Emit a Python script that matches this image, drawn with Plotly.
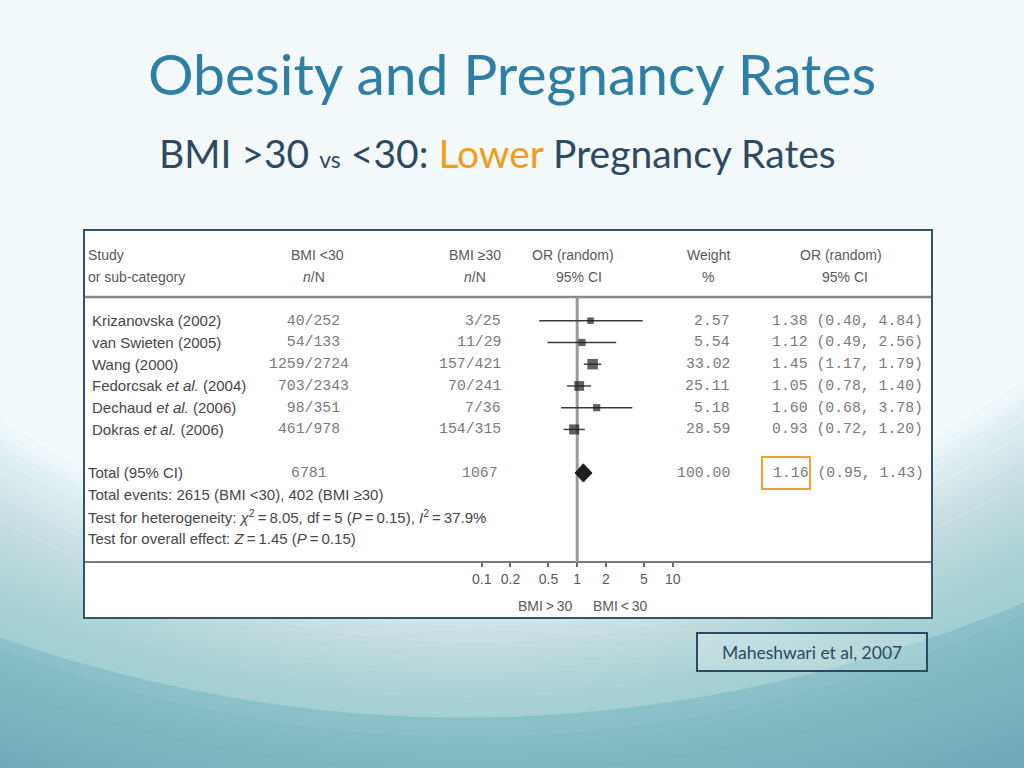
import plotly.graph_objects as go

# ---------------- data ----------------
studies = ["Krizanovska (2002)", "van Swieten (2005)", "Wang (2000)",
           "Fedorcsak <i>et al.</i> (2004)", "Dechaud <i>et al.</i> (2006)",
           "Dokras <i>et al.</i> (2006)"]
low_n = [40, 54, 1259, 703, 98, 461]
low_N = [252, 133, 2724, 2343, 351, 978]
high_n = [3, 11, 157, 70, 7, 154]
high_N = [25, 29, 421, 241, 36, 315]
weights = [2.57, 5.54, 33.02, 25.11, 5.18, 28.59]
or_est = [1.38, 1.12, 1.45, 1.05, 1.60, 0.93]
ci_low = [0.40, 0.49, 1.17, 0.78, 0.68, 0.72]
ci_high = [4.84, 2.56, 1.79, 1.40, 3.78, 1.20]
total_low_N = 6781
total_high_N = 1067
total_weight = 100.00
total_or = 1.16
total_ci_low = 0.95
total_ci_high = 1.43
events_low = 2615
events_high = 402
chi2 = 8.05
df_het = 5
p_het = 0.15
i2 = 37.9
z_val = 1.45
p_overall = 0.15
tick_vals = [0.1, 0.2, 0.5, 1, 2, 5, 10]
tick_text = ["0.1", "0.2", "0.5", "1", "2", "5", "10"]

# ---------------- layout helpers ----------------
W, H = 1024, 768
def px(x):
    return x / W
def py(y):
    return 1 - y / H

ROW0, ROWH = 320.7, 21.75          # pixel centre of first row, row spacing
def row_px(r):
    return ROW0 + ROWH * r

SANS = "Liberation Sans, Arial, sans-serif"
MONO = "Liberation Mono, Courier New, monospace"
SLIDE = "Lato, Open Sans, sans-serif"
NUM_COL = "#7a7a7a"
TXT_COL = "#474747"
HDR_COL = "#5a5a5a"
NB = "\u00a0"

fig = go.Figure()

# forest plot: studies (square markers with CI whiskers)
sizes = [5 + 5.5 * (w / max(weights)) ** 0.5 for w in weights]
fig.add_trace(go.Scatter(
    x=or_est, y=list(range(len(studies))), mode="markers",
    marker=dict(symbol="square", size=sizes, color="#1e1e1e", line=dict(width=0)),
    error_x=dict(type="data", symmetric=False,
                 array=[h - o for h, o in zip(ci_high, or_est)],
                 arrayminus=[o - l for o, l in zip(or_est, ci_low)],
                 color="#3a3a3a", thickness=1.4, width=0),
    hoverinfo="skip", showlegend=False))

# pooled diamond
TOT_ROW = 7
fig.add_trace(go.Scatter(
    x=[total_ci_low, total_or, total_ci_high, total_or, total_ci_low],
    y=[TOT_ROW, TOT_ROW - 0.42, TOT_ROW, TOT_ROW + 0.42, TOT_ROW],
    mode="lines", fill="toself", fillcolor="#1e1e1e",
    line=dict(color="#1e1e1e", width=1), hoverinfo="skip", showlegend=False))

# ---------------- shapes ----------------
shapes = []

def bg_path(yl, yc, yr, color):
    d = (f"M {px(0)},{py(yl)} Q {px(512)},{py(yc)} {px(1024)},{py(yr)} "
         f"L {px(1024)},{py(768)} L {px(0)},{py(768)} Z")
    shapes.append(dict(type="path", path=d, xref="paper", yref="paper",
                       fillcolor=color, line=dict(width=0), layer="below"))

# soft glow layers
N = 30
for k in range(N):
    t = k / (N - 1)
    bg_path(420 + 230 * t, 740 + 90 * t, 380 + 230 * t, "rgba(95,168,195,0.028)")
# wave
bg_path(638, 813, 603, "rgba(85,162,188,0.30)")
for k in range(10):
    t = k / 9
    bg_path(650 + 110 * t, 840 + 80 * t, 615 + 130 * t, "rgba(60,140,172,0.03)")

# white table box
shapes.append(dict(type="rect", xref="paper", yref="paper",
                   x0=px(84), x1=px(932), y0=py(618), y1=py(230),
                   fillcolor="white", line=dict(color="#34546e", width=2), layer="below"))
# header separator
shapes.append(dict(type="line", xref="paper", yref="paper",
                   x0=px(85), x1=px(931), y0=py(297), y1=py(297),
                   line=dict(color="#8a8a8a", width=2.5), layer="below"))
# axis line
AX_Y = 562
shapes.append(dict(type="line", xref="paper", yref="paper",
                   x0=px(85), x1=px(931), y0=py(AX_Y), y1=py(AX_Y),
                   line=dict(color="#7a7a7a", width=2), layer="below"))
# line of no effect
shapes.append(dict(type="line", xref="x", yref="paper", x0=1, x1=1,
                   y0=py(297), y1=py(AX_Y),
                   line=dict(color="#9a9a9a", width=3), layer="below"))
# highlight box around pooled OR
shapes.append(dict(type="rect", xref="paper", yref="paper",
                   x0=px(762), x1=px(810), y0=py(489), y1=py(457),
                   line=dict(color="#f2a12a", width=2), fillcolor="rgba(0,0,0,0)"))
# citation box
shapes.append(dict(type="rect", xref="paper", yref="paper",
                   x0=px(697), x1=px(927), y0=py(671), y1=py(633),
                   line=dict(color="#2c4a63", width=2), fillcolor="rgba(240,248,250,0.25)"))

# ---------------- annotations ----------------
ann = []
def txt(x, y_px, s, size, color, family, xanchor="left"):
    ann.append(dict(x=px(x), y=py(y_px), xref="paper", yref="paper", text=s,
                    showarrow=False, xanchor=xanchor, yanchor="middle",
                    font=dict(size=size, color=color, family=family)))

# headers
H1, H2 = row_px(-3), row_px(-2)
txt(86, H1, "Study", 14, HDR_COL, SANS)
txt(86, H2, "or sub-category", 14, HDR_COL, SANS)
txt(317, H1, "BMI <30", 14, HDR_COL, SANS, "center")
txt(314, H2, "<i>n</i>/N", 14, HDR_COL, SANS, "center")
txt(475, H1, "BMI \u226530", 14, HDR_COL, SANS, "center")
txt(475, H2, "<i>n</i>/N", 14, HDR_COL, SANS, "center")
txt(573, H1, "OR (random)", 14, HDR_COL, SANS, "center")
txt(579, H2, "95% CI", 14, HDR_COL, SANS, "center")
txt(708, H1, "Weight", 14, HDR_COL, SANS, "center")
txt(708, H2, "%", 14, HDR_COL, SANS, "center")
txt(841, H1, "OR (random)", 14, HDR_COL, SANS, "center")
txt(845, H2, "95% CI", 14, HDR_COL, SANS, "center")

MS = 14.8
for i, name in enumerate(studies):
    y = row_px(i)
    txt(90, y, name, 15, TXT_COL, SANS)
    s_low = str(low_n[i]).rjust(4, NB) + "/" + str(low_N[i]).ljust(4, NB)
    txt(309, y, s_low, MS, NUM_COL, MONO, "center")
    txt(503, y, f"{high_n[i]}/{high_N[i]}", MS, NUM_COL, MONO, "right")
    txt(732, y, f"{weights[i]:.2f}", MS, NUM_COL, MONO, "right")
    txt(770, y, f"{or_est[i]:.2f} ({ci_low[i]:.2f}, {ci_high[i]:.2f})", MS, NUM_COL, MONO)

yt = row_px(TOT_ROW)
txt(86, yt, "Total (95% CI)", 15, TXT_COL, SANS)
txt(309, yt, str(total_low_N), MS, NUM_COL, MONO, "center")
txt(500, yt, str(total_high_N), MS, NUM_COL, MONO, "right")
txt(732, yt, f"{total_weight:.2f}", MS, NUM_COL, MONO, "right")
txt(771, yt, f"{total_or:.2f} ({total_ci_low:.2f}, {total_ci_high:.2f})", MS, NUM_COL, MONO)

T = "\u2009"
txt(86, row_px(8), f"Total events: {events_low} (BMI <30), {events_high} (BMI \u226530)", 15, TXT_COL, SANS)
txt(86, row_px(9),
    f"Test for heterogeneity: <i>\u03c7</i><sup>2</sup>{T}={T}{chi2:.2f}, df{T}={T}{df_het} "
    f"(<i>P</i>{T}={T}{p_het:.2f}), <i>I</i><sup>2</sup>{T}={T}{i2:.1f}%", 15, TXT_COL, SANS)
txt(86, row_px(10), f"Test for overall effect: <i>Z</i>{T}={T}{z_val:.2f} (<i>P</i>{T}={T}{p_overall:.2f})",
    15, TXT_COL, SANS)

txt(545, 606, "BMI\u2009>\u200930", 14, HDR_COL, SANS, "center")
txt(620, 606, "BMI\u2009<\u200930", 14, HDR_COL, SANS, "center")

# slide title / subtitle / citation
txt(512, 73, "Obesity and Pregnancy Rates", 57, "#2e7fa5", SLIDE, "center")
txt(157, 153,
    "BMI >30 <span style='font-size:23px'>vs</span> &lt;30: "
    "<span style='color:#f39c1a'>Lower</span> Pregnancy Rates", 39, "#2c4a63", SLIDE)
txt(812, 652, "Maheshwari et al, 2007", 17.5, "#2c4a63", SLIDE, "center")

# ---------------- layout ----------------
# x: log axis positioned so that 1 -> 577.2 px and one decade = 95.5 px
XC, DEC = 577.2, 95.5
fig.update_layout(
    width=W, height=H, margin=dict(l=0, r=0, t=0, b=0),
    paper_bgcolor="#f4f9fb", plot_bgcolor="rgba(0,0,0,0)",
    shapes=shapes, annotations=ann, showlegend=False,
    xaxis=dict(type="log", range=[-XC / DEC, (W - XC) / DEC], domain=[0, 1],
               anchor="free", position=py(AX_Y), showgrid=False, zeroline=False,
               showline=False, tickmode="array", tickvals=tick_vals, ticktext=tick_text,
               ticks="outside", ticklen=4, tickwidth=1.5, tickcolor="#6a6a6a",
               tickfont=dict(family=SANS, size=14, color=HDR_COL), fixedrange=True),
    yaxis=dict(range=[(H - ROW0) / ROWH, -ROW0 / ROWH], domain=[0, 1], visible=False,
               fixedrange=True),
)

fig.write_html("out.html", config={"displayModeBar": False},
               post_script="document.body.style.margin='0';document.body.style.overflow='hidden';")
